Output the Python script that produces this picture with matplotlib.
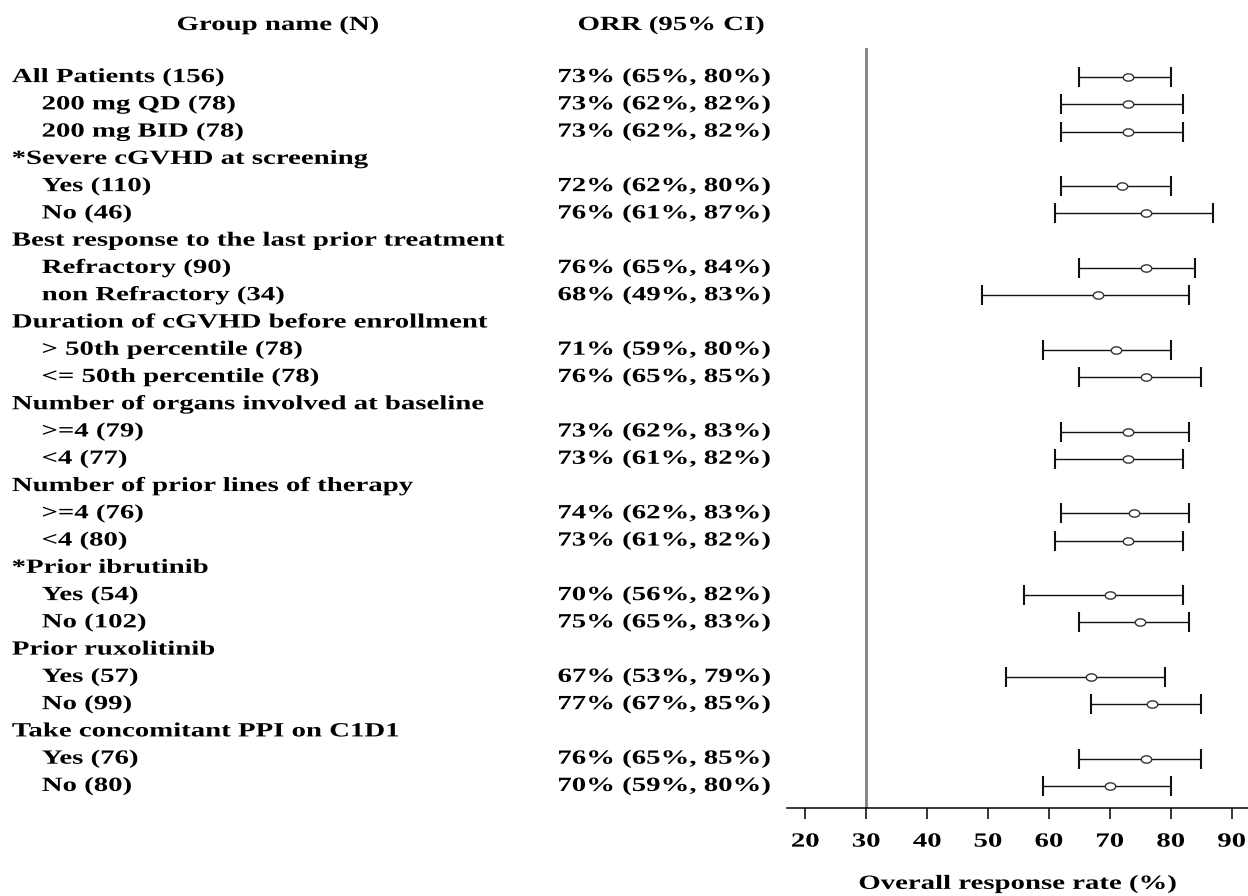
import matplotlib.pyplot as plt
import matplotlib.transforms as mtransforms
import matplotlib.patheffects as pe
from matplotlib.path import Path
import numpy as np

plt.rcParams['font.family'] = ['Liberation Serif', 'DejaVu Serif']
plt.rcParams['font.weight'] = 'bold'

LABELS = [
    'All Patients (156)', '200 mg QD (78)', '200 mg BID (78)',
    '*Severe cGVHD at screening', 'Yes (110)', 'No (46)',
    'Best response to the last prior treatment', 'Refractory (90)', 'non Refractory (34)',
    'Duration of cGVHD before enrollment', '> 50th percentile (78)', '<= 50th percentile (78)',
    'Number of organs involved at baseline', '>=4 (79)', '<4 (77)',
    'Number of prior lines of therapy', '>=4 (76)', '<4 (80)',
    '*Prior ibrutinib', 'Yes (54)', 'No (102)',
    'Prior ruxolitinib', 'Yes (57)', 'No (99)',
    'Take concomitant PPI on C1D1', 'Yes (76)', 'No (80)',
]
INDENT = [0, 1, 1, 0, 1, 1, 0, 1, 1, 0, 1, 1, 0, 1, 1, 0, 1, 1, 0, 1, 1, 0, 1, 1, 0, 1, 1]
ORR = [73, 73, 73, None, 72, 76, None, 76, 68, None, 71, 76, None, 73, 73,
       None, 74, 73, None, 70, 75, None, 67, 77, None, 76, 70]
LOW = [65, 62, 62, None, 62, 61, None, 65, 49, None, 59, 65, None, 62, 61,
       None, 62, 61, None, 56, 65, None, 53, 67, None, 65, 59]
HIGH = [80, 82, 82, None, 80, 87, None, 84, 83, None, 80, 85, None, 83, 82,
        None, 83, 82, None, 82, 83, None, 79, 85, None, 85, 80]
REF_LINE = 30
XTICKS = [20, 30, 40, 50, 60, 70, 80, 90]

FS = 14.5
SX = 1.43


class Widen(pe.AbstractPathEffect):
    """Draw text glyphs stretched horizontally about their left edge or centre."""

    def __init__(self, sx, anchor='left'):
        super().__init__()
        self.sx = sx
        self.anchor = anchor

    def draw_path(self, renderer, gc, tpath, affine, rgbFace=None):
        ext = tpath.get_extents(affine)
        x0 = ext.x0 if self.anchor == 'left' else 0.5 * (ext.x0 + ext.x1)
        aff = affine + mtransforms.Affine2D().translate(-x0, 0).scale(self.sx, 1).translate(x0, 0)
        renderer.draw_path(gc, tpath, aff, rgbFace)


WIDE_L = [Widen(SX, 'left')]
WIDE_C = [Widen(SX, 'center')]

fig = plt.figure(figsize=(12.48, 8.96), dpi=100)
ax = fig.add_axes([0.6306, 0.0982, 0.3694, 0.848])

n = len(LABELS)
ax.set_ylim(n - 1 + 0.81, -1.06)
ax.set_xlim(17, 92.7)

ax.axvline(REF_LINE, color='#808080', lw=2, zorder=1)

rows = [i for i in range(n) if ORR[i] is not None]
est = np.array([ORR[i] for i in rows], dtype=float)
lo = np.array([LOW[i] for i in rows], dtype=float)
hi = np.array([HIGH[i] for i in rows], dtype=float)
ax.errorbar(est, rows, xerr=[est - lo, hi - est], fmt='none', ecolor='#111111',
            elinewidth=1.0, capsize=7.5, capthick=1.5, zorder=2)

t = np.linspace(0, 2 * np.pi, 60)
ellipse = Path(np.column_stack([np.cos(t), 0.7 * np.sin(t)]), closed=True)
ax.plot(est, rows, ls='none', marker=ellipse, ms=7.5, mfc='white', mec='#333333',
        mew=1.0, zorder=3)

for s in ['top', 'right', 'left']:
    ax.spines[s].set_visible(False)
ax.spines['bottom'].set_linewidth(1.1)
ax.set_yticks([])
ax.set_xticks(XTICKS)
ax.tick_params(axis='x', length=8, width=1.1, labelsize=FS, pad=9)
for lab in ax.get_xticklabels():
    lab.set_fontweight('bold')
    lab.set_path_effects(WIDE_C)
ax.set_xlabel('Overall response rate (%)', fontsize=FS, fontweight='bold', labelpad=16,
              path_effects=WIDE_C)

trans = mtransforms.blended_transform_factory(fig.transFigure, ax.transData)
for i in range(n):
    x = 0.0336 if INDENT[i] else 0.0096
    ax.text(x, i, LABELS[i], transform=trans, fontsize=FS, fontweight='bold',
            va='center', ha='left', clip_on=False, path_effects=WIDE_L)
    if ORR[i] is not None:
        ax.text(0.447, i, f'{ORR[i]}% ({LOW[i]}%, {HIGH[i]}%)', transform=trans,
                fontsize=FS, fontweight='bold', va='center', ha='left', clip_on=False,
                path_effects=WIDE_L)

fig.text(177 / 1248, 1 - 25 / 896, 'Group name (N)', fontsize=FS, fontweight='bold',
         ha='left', va='center', path_effects=WIDE_L)
fig.text(578 / 1248, 1 - 25 / 896, 'ORR (95% CI)', fontsize=FS, fontweight='bold',
         ha='left', va='center', path_effects=WIDE_L)

fig.savefig('out.png', dpi=100)
